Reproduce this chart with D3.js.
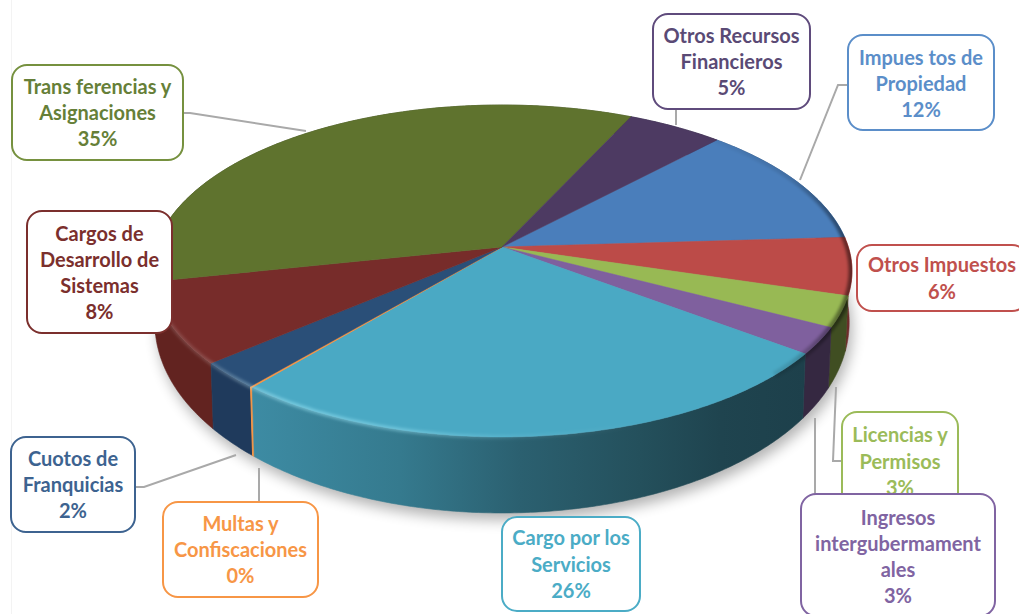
<!DOCTYPE html>
<html><head><meta charset="utf-8">
<script src="https://cdn.jsdelivr.net/npm/d3@7"></script>
<style>html,body{margin:0;padding:0;background:#fff;overflow:hidden}svg{display:block}</style>
</head><body><div id="chart"></div>
<script>
// ---- data ----
const categories = ["Impuestos de Propiedad","Otros Impuestos","Licencias y Permisos","Ingresos intergubermamentales","Cargo por los Servicios","Multas y Confiscaciones","Cuotos de Franquicias","Cargos de Desarrollo de Sistemas","Transferencias y Asignaciones","Otros Recursos Financieros"];
const values = [12, 5.6, 3, 2.6, 25.8, 0.1, 2.6, 7.9, 35.2, 5.1];
const percentLabels = ["12%","6%","3%","3%","26%","0%","2%","8%","35%","5%"];
const labelLines = [
  ["Impues tos de","Propiedad"],["Otros Impuestos"],["Licencias y","Permisos"],["Ingresos","intergubermament","ales"],
  ["Cargo por los","Servicios"],["Multas y","Confiscaciones"],["Cuotos de","Franquicias"],["Cargos de","Desarrollo de","Sistemas"],
  ["Trans ferencias y","Asignaciones"],["Otros Recursos","Financieros"]];
// ---- styles and layout ----
const topColors  = ["#4a7ebb","#bc4b48","#98b954","#7f609e","#4aa9c4","#f79646","#2a4f78","#772c2a","#5f732e","#4d3a62"];
const sideColors = ["#2c4c70","#6e2c2a","#404e22","#352841","url(#cyanSide)","#f79646","#1f3a5c","#622320","#3f4d21","#2e2340"];
const textColors = ["#5b8ec9","#c0504d","#9bbb59","#8064a2","#4bacc6","#f79646","#3d6390","#7b2f2d","#667f38","#5a4a75"];
const boxStroke  = ["#5b8ec9","#c0504d","#9bbb59","#8064a2","#4bacc6","#f79646","#3d6390","#7b2f2d","#76913f","#5f4b7c"];
const boxes = [[848,35,146,95],[857,245,170,66],[842,412,116,110],[801,494,194,122],[502,517,138,94],[163,502,155,95],[11,437,124,95],[27,211,145,122],[12,65,171,95],[653,14,157,95]];
const textShift = [1,0,-6,1.5,0,0,0,0.5,0,0];
const leaders = [
  [[848,85],[838,85],[800,180]],[],[[841,461],[833,461],[836,387]],[[815,494],[815,418]],[],
  [[259,502],[259,468]],[[135,487],[144,487],[236,455]],[],[[183,113],[190,113],[306,131]],[[676,109],[676,125]]];
const boxOrder = [0,1,2,3,4,5,6,7,8,9];

const W = 1019, H = 614;
const apexX = 502, apexY = 247, R = 346.3, Ry = 162.5, persp = 0.1446;
const svg = d3.select("#chart").append("svg").attr("width",W).attr("height",H);
const defs = svg.append("defs");
const blur = (id,s)=>defs.append("filter").attr("id",id).attr("x","-20%").attr("y","-20%").attr("width","140%").attr("height","140%")
  .append("feGaussianBlur").attr("stdDeviation",s);
blur("shadowBlur",7); blur("bevelBlur",1.6);

const grad = (id,stops)=>{const g=defs.append("linearGradient").attr("id",id).attr("gradientUnits","userSpaceOnUse")
  .attr("x1",200).attr("x2",860).attr("y1",0).attr("y2",0);
  stops.forEach(s=>g.append("stop").attr("offset",(s[0]-200)/660).attr("stop-color",s[1]).attr("stop-opacity",s[2]));};
grad("cyanSide",[[254,"#3d8ba3",1],[400,"#357a8e",1],[520,"#2b6070",1],[640,"#24505c",1],[720,"#1f444f",1],[806,"#1d404b",1]]);
grad("bevelLight",[[200,"#fff",.14],[290,"#a8f0ff",.45],[400,"#a8f0ff",.38],[520,"#a8f0ff",.1],[640,"#fff",0],[860,"#fff",0]]);
grad("bevelDark",[[200,"#000",0],[690,"#000",0],[790,"#000",.12],[835,"#000",.38],[860,"#000",.55]]);

// circle angle (clockwise from the back) -> page position, with perspective
const rimTop = a => { const u=Math.sin(a), v=-Math.cos(a), s=1/(1-persp*v);
  return [apexX+R*u*s, apexY+Ry*v*s]; };
const rimBottom = a => { const v=-Math.cos(a), p=rimTop(a);
  return [apexX+(p[0]-apexX)*0.992, p[1]+47+29*v]; };
const line = d3.line();
const sample = (a0,a1,f)=>{const n=Math.max(2,Math.ceil(Math.abs(a1-a0)/0.01));
  return d3.range(n+1).map(i=>f(a0+(a1-a0)*i/n));};

const start = 43.3*Math.PI/180;
const arcs = d3.pie().sort(null).startAngle(start).endAngle(start+2*Math.PI)(values);

const fullTop = sample(0,2*Math.PI,rimTop), fullBottom = sample(0,2*Math.PI,rimBottom);
svg.append("line").attr("x1",11.5).attr("x2",11.5).attr("y1",0).attr("y2",H).attr("stroke","#f3f3f3");
svg.append("path").attr("d",line(fullBottom)+"Z").attr("transform","translate(3,7)")
  .attr("fill","#000").attr("opacity",.3).attr("filter","url(#shadowBlur)");
const silhouette = defs.append("clipPath").attr("id","pieClip");
silhouette.append("path").attr("d",line(fullTop)+"Z");
silhouette.append("path").attr("d",line(fullBottom)+"Z");
const sides = svg.append("g");
arcs.slice().sort((p,q)=>-Math.cos((p.startAngle+p.endAngle)/2)-(-Math.cos((q.startAngle+q.endAngle)/2)))
 .forEach(d=>{
  const pts = sample(d.startAngle,d.endAngle,rimTop).concat(sample(d.endAngle,d.startAngle,rimBottom));
  sides.append("path").attr("d",line(pts)+"Z").attr("fill",sideColors[d.index]).attr("stroke",d.index===5?"#f79646":sideColors[d.index]).attr("stroke-width",d.index===5?1:.6);
});
const tops = svg.append("g");
arcs.forEach(d=>{
  const pts = [[apexX,apexY]].concat(sample(d.startAngle,d.endAngle,rimTop));
  tops.append("path").attr("d",line(pts)+"Z").attr("fill",topColors[d.index])
    .attr("stroke",topColors[d.index]).attr("stroke-width",d.index===5?1:.5);
});
const bevel = svg.append("g").attr("clip-path","url(#pieClip)");
const frontRim = line(sample(Math.PI*0.42,Math.PI*1.55,rimTop));
bevel.append("path").attr("d",frontRim).attr("fill","none").attr("stroke","url(#bevelLight)").attr("stroke-width",4).attr("filter","url(#bevelBlur)");
bevel.append("path").attr("d",line(sample(Math.PI*0.2,Math.PI*0.75,rimTop))).attr("fill","none").attr("stroke","url(#bevelDark)").attr("stroke-width",7).attr("filter","url(#bevelBlur)");

svg.append("g").selectAll("path").data(leaders.filter(l=>l.length)).join("path")
  .attr("d",d=>line(d)).attr("fill","none").attr("stroke","#a9a9a9").attr("stroke-width",2);

const labels = svg.append("g").attr("font-family","Lato, 'Open Sans', sans-serif").attr("font-weight",700).attr("font-size",20).attr("text-anchor","middle");
boxOrder.forEach(i=>{
  const [x,y,w,h]=boxes[i], g=labels.append("g");
  g.append("rect").attr("x",x).attr("y",y).attr("width",w).attr("height",h).attr("rx",15).attr("ry",15)
    .attr("fill","#fff").attr("stroke",boxStroke[i]).attr("stroke-width",2);
  const rows = labelLines[i].concat([percentLabels[i]]);
  const lh = 26.2, cx = i===1 ? 942 : x+w/2, y0 = y+h/2-(rows.length-1)*lh/2+7.5+textShift[i];
  const t = g.append("text").attr("fill",textColors[i]);
  rows.forEach((r,k)=>t.append("tspan").attr("x",cx).attr("y",y0+k*lh).text(r));
});
</script></body></html>
